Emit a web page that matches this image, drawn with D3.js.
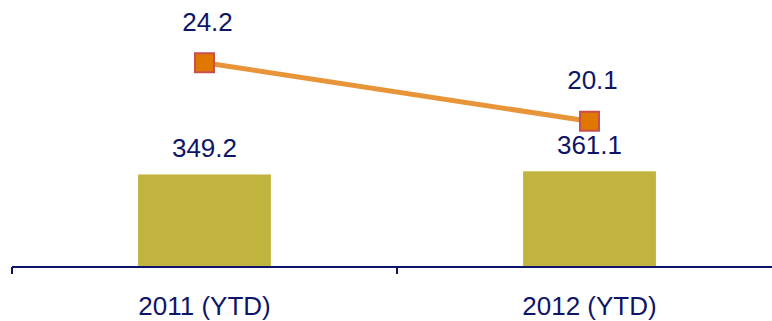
<!DOCTYPE html>
<html><head><meta charset="utf-8">
<script src="https://cdn.jsdelivr.net/npm/d3@7"></script>
<style>html,body{margin:0;padding:0;background:#fff;}svg{display:block;}</style>
</head><body>
<svg id="c" width="772" height="321"></svg>
<script>
const categories = ["2011 (YTD)", "2012 (YTD)"];
const barValues = [349.2, 361.1];
const lineValues = [24.2, 20.1];

const svg = d3.select("#c");
const font = "Arial, 'Liberation Sans', sans-serif";
const navy = "#0f1566";

const x = d3.scaleBand().domain(categories).range([12, 782]).paddingInner(0.655).paddingOuter(0.3275);
const yBar = d3.scaleLinear().domain([0, 1000]).range([267, 2]);
const yLine = d3.scaleLinear().domain([0, 30]).range([408, -20]);

// bars
svg.selectAll("rect.bar").data(categories).enter().append("rect")
  .attr("class","bar")
  .attr("x", d => x(d))
  .attr("width", x.bandwidth())
  .attr("y", (d,i) => yBar(barValues[i]))
  .attr("height", (d,i) => yBar(0) - yBar(barValues[i]))
  .attr("fill", "#c0b43f");

// axis
const axis = d3.axisBottom(x).tickSize(0).tickFormat("");
const ax = svg.append("g").attr("transform", `translate(0,${yBar(0)})`).call(axis);
ax.select(".domain").remove();
ax.append("line").attr("x1", 12).attr("x2", 782).attr("y1", 0).attr("y2", 0).attr("stroke", navy).attr("stroke-width", 2);
const step = x.step();
const bounds = [12, 12 + step, 12 + 2*step];
ax.selectAll("line.tk").data(bounds).enter().append("line").attr("class","tk")
  .attr("x1", d => d).attr("x2", d => d).attr("y1", 0).attr("y2", 7)
  .attr("stroke", navy).attr("stroke-width", 2);

svg.selectAll("text.xl").data(categories).enter().append("text")
  .attr("class","xl")
  .attr("x", d => x(d) + x.bandwidth()/2)
  .attr("y", 315)
  .attr("text-anchor","middle")
  .attr("font-family", font).attr("font-size", 26).attr("fill", navy)
  .text(d => d);

// bar labels
svg.selectAll("text.bl").data(categories).enter().append("text")
  .attr("class","bl")
  .attr("x", d => x(d) + x.bandwidth()/2)
  .attr("y", (d,i) => yBar(barValues[i]) - 17)
  .attr("text-anchor","middle")
  .attr("font-family", font).attr("font-size", 26).attr("fill", navy)
  .text((d,i) => barValues[i].toFixed(1));

// line
const cx = d => x(d) + x.bandwidth()/2;
const line = d3.line().x((d,i) => cx(categories[i])).y(d => yLine(d));
svg.append("path").datum(lineValues).attr("d", line)
  .attr("fill","none").attr("stroke","#e8953a").attr("stroke-width",5);

svg.selectAll("rect.mk").data(lineValues).enter().append("rect")
  .attr("class","mk")
  .attr("x", (d,i) => cx(categories[i]) - 9.5)
  .attr("y", d => yLine(d) - 9.5)
  .attr("width", 19).attr("height", 19)
  .attr("fill", "#e07800").attr("stroke", "#c94f4f").attr("stroke-width", 2);

svg.selectAll("text.ll").data(lineValues).enter().append("text")
  .attr("class","ll")
  .attr("x", (d,i) => cx(categories[i]) + 3)
  .attr("y", d => yLine(d) - 32)
  .attr("text-anchor","middle")
  .attr("font-family", font).attr("font-size", 26).attr("fill", navy)
  .text(d => d.toFixed(1));
</script>
</body></html>
